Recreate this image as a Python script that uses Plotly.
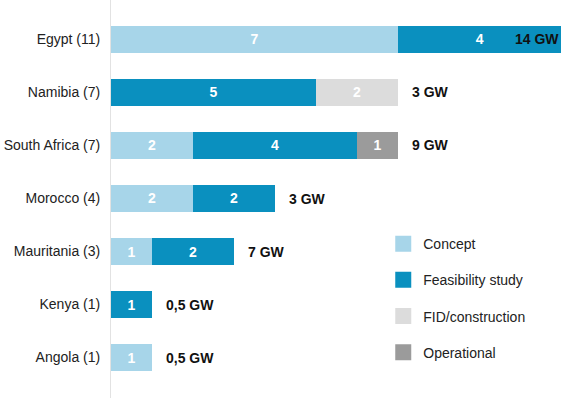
import plotly.graph_objects as go

countries = ["Egypt (11)", "Namibia (7)", "South Africa (7)", "Morocco (4)",
             "Mauritania (3)", "Kenya (1)", "Angola (1)"]
concept = [7, 0, 2, 2, 1, 0, 1]
feasibility = [4, 5, 4, 2, 2, 1, 0]
fid = [0, 2, 0, 0, 0, 0, 0]
operational = [0, 0, 1, 0, 0, 0, 0]
capacity = ["14 GW", "3 GW", "9 GW", "3 GW", "7 GW", "0,5 GW", "0,5 GW"]

series = [
    ("Concept", concept, "#a7d5e9"),
    ("Feasibility study", feasibility, "#0a90bf"),
    ("FID/construction", fid, "#dcdcdc"),
    ("Operational", operational, "#9b9b9b"),
]

FONT = "Liberation Sans, Arial, sans-serif"
XMAX = 10.98

fig = go.Figure()
for i, (name, vals, color) in enumerate(series):
    fig.add_trace(go.Bar(
        y=countries, x=[v if v else None for v in vals], name=name, orientation="h",
        marker=dict(color=color, line=dict(width=0)),
        text=[str(v) if v else "" for v in vals],
        textposition="inside", insidetextanchor="middle",
        textfont=dict(color="white", size=14, family=FONT, weight="bold"),
        cliponaxis=True, showlegend=False,
    ))
    # legend-only entry with a larger square swatch
    fig.add_trace(go.Scatter(
        x=[None], y=[None], mode="markers", name=name,
        marker=dict(symbol="square", size=16, color=color),
        legendgroup=name, showlegend=True,
    ))

totals = [a + b + c + d for a, b, c, d in zip(concept, feasibility, fid, operational)]
for c, t, lab in zip(countries, totals, capacity):
    if t + 1.3 > XMAX:
        fig.add_annotation(x=XMAX, y=c, text=f"<b>{lab}</b>", showarrow=False,
                           xanchor="right",
                           font=dict(size=14, family=FONT, color="#111"))
    else:
        fig.add_annotation(x=t, y=c, text=f"<b>{lab}</b>", showarrow=False,
                           xanchor="left", xshift=12,
                           font=dict(size=14, family=FONT, color="#111"))

fig.update_layout(
    barmode="stack", bargap=0.49,
    width=561, height=398,
    margin=dict(l=111, r=0, t=0, b=0),
    plot_bgcolor="white", paper_bgcolor="white",
    font=dict(family=FONT, size=14, color="#222"),
    showlegend=True,
    legend=dict(x=0.605, y=0.427, xanchor="left", yanchor="top",
                font=dict(size=14, family=FONT, color="#222"),
                tracegroupgap=15, itemsizing="trace",
                bgcolor="rgba(0,0,0,0)"),
)
fig.update_xaxes(range=[0, XMAX], showgrid=False, zeroline=False,
                 showticklabels=False, showline=False)
fig.update_yaxes(categoryorder="array", categoryarray=countries,
                 range=[6.764, -0.745], showgrid=False, zeroline=False,
                 showline=True, linecolor="#e2e2e2", linewidth=1,
                 ticks="", ticklabelstandoff=7,
                 tickfont=dict(size=14, family=FONT, color="#222"))

fig.write_html("out.html",
               config={"displayModeBar": False},
               post_script="document.body.style.margin='0';document.body.style.overflow='hidden';")
